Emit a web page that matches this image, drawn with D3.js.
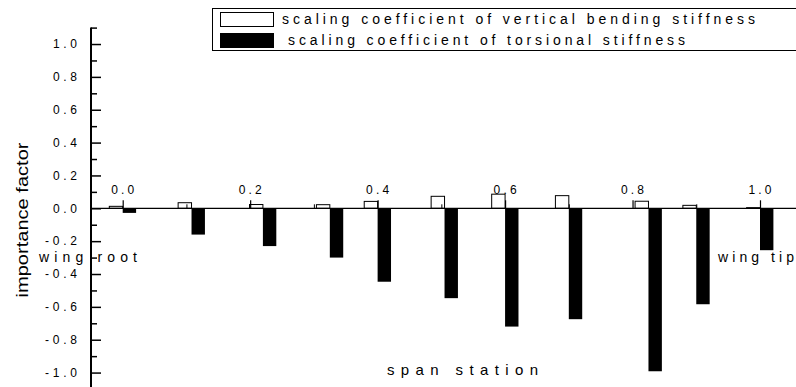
<!DOCTYPE html>
<html><head><meta charset="utf-8">
<script src="https://cdn.jsdelivr.net/npm/d3@7"></script>
<style>
html,body{margin:0;padding:0;background:#fff;}
svg{display:block;font-family:"Liberation Sans",Arial,sans-serif;}
</style></head>
<body><svg id="c" width="796" height="387"></svg>
<script>
// ---- data ----
const stations  = [0, 0.108, 0.22, 0.325, 0.40, 0.505, 0.60, 0.70, 0.825, 0.90, 1.0];
const bending   = [0.012, 0.034, 0.023, 0.022, 0.042, 0.073, 0.086, 0.077, 0.043, 0.018, 0.004];
const torsional = [-0.028, -0.16, -0.23, -0.30, -0.447, -0.547, -0.72, -0.675, -0.992, -0.584, -0.255];
const yTickValues = [-1.0, -0.8, -0.6, -0.4, -0.2, 0.0, 0.2, 0.4, 0.6, 0.8, 1.0];
const yMinorValues = [-1.1, -0.9, -0.7, -0.5, -0.3, -0.1, 0.1, 0.3, 0.5, 0.7, 0.9, 1.1];
const xTickValues = [0.0, 0.2, 0.4, 0.6, 0.8, 1.0];
const xMinorValues = [0.1, 0.3, 0.5, 0.7, 0.9];
const seriesNames = ["scaling coefficient of vertical bending stiffness", " scaling coefficient of torsional stiffness"];

const svg = d3.select("#c");
const x = d3.scaleLinear().domain([0, 1]).range([122.7, 760]);
const y = d3.scaleLinear().domain([-1.1, 1.1]).range([389, 27.6]);
const barW = 13.4;
const y0 = y(0);

// bars
const data = stations.map((s, i) => ({s, b: bending[i], t: torsional[i]}));
svg.append("g").selectAll("rect").data(data).join("rect")
  .attr("x", d => x(d.s) - barW).attr("width", barW)
  .attr("y", d => y(Math.max(0, d.b))).attr("height", d => Math.abs(y(d.b) - y0))
  .attr("fill", "#fff").attr("stroke", "#000").attr("stroke-width", 1);
svg.append("g").selectAll("rect").data(data).join("rect")
  .attr("x", d => x(d.s)).attr("width", barW)
  .attr("y", d => y(Math.max(0, d.t))).attr("height", d => Math.abs(y(d.t) - y0))
  .attr("fill", "#000");

// x axis (at y=0), ticks pointing up
const gx = svg.append("g").attr("transform", `translate(0,${y0})`)
  .call(d3.axisTop(x).tickValues(xTickValues).tickSize(8).tickFormat(() => ""));
gx.select(".domain").remove();
gx.selectAll(".tick line").attr("stroke-width", 1.2);
svg.append("line").attr("x1", 91).attr("x2", 796).attr("y1", y0).attr("y2", y0)
  .attr("stroke", "#000").attr("stroke-width", 1.2);
const gxm = svg.append("g").attr("transform", `translate(0,${y0})`)
  .call(d3.axisTop(x).tickValues(xMinorValues).tickSize(4).tickFormat(() => ""));
gxm.select(".domain").remove();
svg.append("g").selectAll("text").data(xTickValues).join("text")
  .attr("x", d => x(d)).attr("y", y0 - 14).attr("text-anchor", "middle")
  .attr("font-size", 12).attr("textLength", 23).attr("lengthAdjust", "spacing")
  .text(d => d.toFixed(1));

// y axis, ticks pointing right
const gy = svg.append("g").attr("transform", "translate(91,0)")
  .call(d3.axisRight(y).tickValues(yTickValues).tickSize(10).tickFormat(() => ""));
gy.select(".domain").remove();
gy.selectAll(".tick line").attr("stroke-width", 1.5);
const gym = svg.append("g").attr("transform", "translate(91,0)")
  .call(d3.axisRight(y).tickValues(yMinorValues).tickSize(6).tickFormat(() => ""));
gym.select(".domain").remove();
gym.selectAll(".tick line").attr("stroke-width", 1.5);
svg.append("line").attr("x1", 91).attr("x2", 91).attr("y1", y(1.1)).attr("y2", 389)
  .attr("stroke", "#000").attr("stroke-width", 2);
svg.append("g").selectAll("text").data(yTickValues).join("text")
  .attr("x", 77).attr("y", d => y(d)).attr("dy", "0.36em").attr("text-anchor", "end")
  .attr("font-size", 12).attr("textLength", d => d < 0 ? 32 : 24).attr("lengthAdjust", "spacing")
  .text(d => d.toFixed(1));

// axis titles
svg.append("text").attr("transform", "translate(28,220) rotate(-90)")
  .attr("text-anchor", "middle").attr("font-size", 17).attr("textLength", 155)
  .attr("lengthAdjust", "spacingAndGlyphs").text("importance factor");
svg.append("text").attr("x", 387).attr("y", 375).attr("font-size", 15)
  .attr("textLength", 151).attr("lengthAdjust", "spacing").text("span station");
svg.append("text").attr("x", 39).attr("y", 262).attr("font-size", 14)
  .attr("textLength", 98).attr("lengthAdjust", "spacing").text("wing root");
svg.append("text").attr("x", 718).attr("y", 262).attr("font-size", 14)
  .attr("textLength", 76).attr("lengthAdjust", "spacing").text("wing tip");

// legend
const lg = svg.append("g");
lg.append("rect").attr("x", 212.5).attr("y", 8.5).attr("width", 600).attr("height", 42)
  .attr("fill", "none").attr("stroke", "#000").attr("stroke-width", 1);
const fills = ["#fff", "#000"];
const ly = [12, 33];
const lx = [282, 288];
const lw = [473, 397];
seriesNames.forEach((n, i) => {
  lg.append("rect").attr("x", 220.5).attr("y", ly[i] + 0.5).attr("width", 53).attr("height", 14)
    .attr("fill", fills[i]).attr("stroke", "#000").attr("stroke-width", 1);
  lg.append("text").attr("x", lx[i]).attr("y", ly[i] + 12).attr("font-size", 14)
    .attr("textLength", lw[i]).attr("lengthAdjust", "spacing").text(n.trim());
});
</script></body></html>
